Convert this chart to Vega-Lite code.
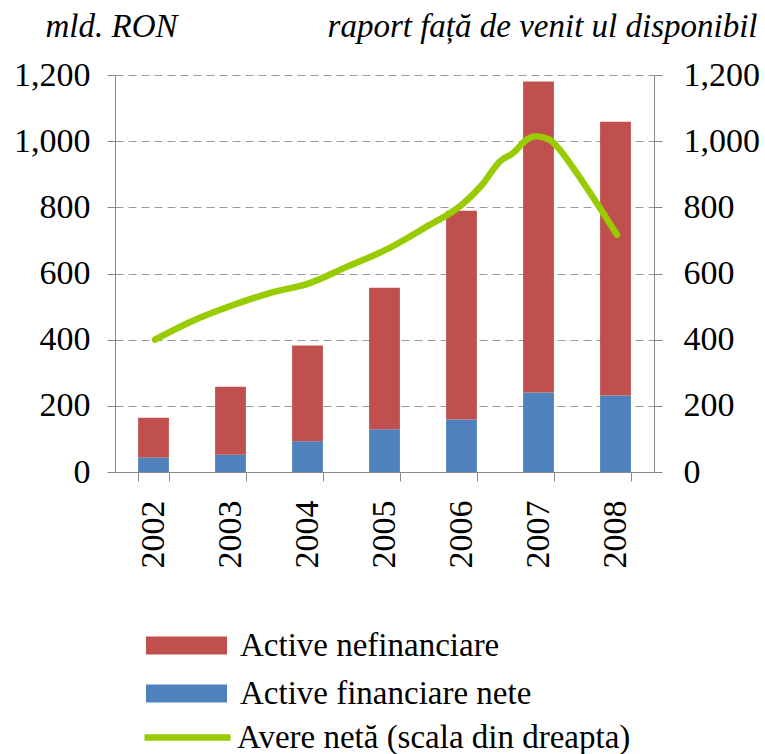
{
  "$schema": "https://vega.github.io/schema/vega-lite/v6.json",
  "width": 539,
  "height": 397,
  "autosize": {"type": "none"},
  "padding": {"left": 115, "top": 75, "right": 111, "bottom": 282},
  "background": "white",
  "config": {
    "font": "Liberation Serif",
    "view": {"stroke": null},
    "axis": {
      "labelFont": "Liberation Serif",
      "labelFontSize": 34,
      "labelColor": "black",
      "domainColor": "#888888",
      "tickColor": "#888888",
      "gridColor": "#999999",
      "gridDash": [8, 5],
      "titleFont": "Liberation Serif",
      "titleColor": "black"
    },
    "legend": {
      "labelFont": "Liberation Serif",
      "labelColor": "black",
      "labelFontSize": 33,
      "labelLimit": 600,
      "padding": 0
    }
  },
  "datasets": {
    "bars": [
      {"year": "2002", "series": "Active financiare nete", "ord": 1, "value": 44},
      {"year": "2002", "series": "Active nefinanciare", "ord": 2, "value": 120},
      {"year": "2003", "series": "Active financiare nete", "ord": 1, "value": 52},
      {"year": "2003", "series": "Active nefinanciare", "ord": 2, "value": 206},
      {"year": "2004", "series": "Active financiare nete", "ord": 1, "value": 93},
      {"year": "2004", "series": "Active nefinanciare", "ord": 2, "value": 289},
      {"year": "2005", "series": "Active financiare nete", "ord": 1, "value": 129},
      {"year": "2005", "series": "Active nefinanciare", "ord": 2, "value": 428},
      {"year": "2006", "series": "Active financiare nete", "ord": 1, "value": 159},
      {"year": "2006", "series": "Active nefinanciare", "ord": 2, "value": 631},
      {"year": "2007", "series": "Active financiare nete", "ord": 1, "value": 240},
      {"year": "2007", "series": "Active nefinanciare", "ord": 2, "value": 940},
      {"year": "2008", "series": "Active financiare nete", "ord": 1, "value": 231},
      {"year": "2008", "series": "Active nefinanciare", "ord": 2, "value": 828}
    ],
    "net": [
      {"t": 2002.02, "value": 400, "series": "Avere netă (scala din dreapta)"},
      {"t": 2002.49, "value": 455, "series": "Avere netă (scala din dreapta)"},
      {"t": 2002.99, "value": 501, "series": "Avere netă (scala din dreapta)"},
      {"t": 2003.51, "value": 541, "series": "Avere netă (scala din dreapta)"},
      {"t": 2004.03, "value": 571, "series": "Avere netă (scala din dreapta)"},
      {"t": 2004.51, "value": 620, "series": "Avere netă (scala din dreapta)"},
      {"t": 2005.02, "value": 672, "series": "Avere netă (scala din dreapta)"},
      {"t": 2005.52, "value": 738, "series": "Avere netă (scala din dreapta)"},
      {"t": 2006.02, "value": 811, "series": "Avere netă (scala din dreapta)"},
      {"t": 2006.26, "value": 866, "series": "Avere netă (scala din dreapta)"},
      {"t": 2006.5, "value": 939, "series": "Avere netă (scala din dreapta)"},
      {"t": 2006.67, "value": 964, "series": "Avere netă (scala din dreapta)"},
      {"t": 2006.86, "value": 1007, "series": "Avere netă (scala din dreapta)"},
      {"t": 2006.97, "value": 1015, "series": "Avere netă (scala din dreapta)"},
      {"t": 2007.14, "value": 1005, "series": "Avere netă (scala din dreapta)"},
      {"t": 2007.27, "value": 976, "series": "Avere netă (scala din dreapta)"},
      {"t": 2007.45, "value": 919, "series": "Avere netă (scala din dreapta)"},
      {"t": 2007.77, "value": 808, "series": "Avere netă (scala din dreapta)"},
      {"t": 2008.02, "value": 717, "series": "Avere netă (scala din dreapta)"}
    ]
  },
  "layer": [
    {
      "data": {"name": "bars"},
      "mark": {"type": "bar"},
      "encoding": {
        "x": {
          "field": "year",
          "type": "ordinal",
          "scale": {"paddingInner": 0.6, "paddingOuter": 0.3},
          "axis": {
            "title": null,
            "labelFont": "Liberation Serif",
            "labelFontSize": 34,
            "labelColor": "black",
            "labelAngle": -90,
            "labelAlign": "right",
            "labelBaseline": "middle",
            "tickBand": "extent",
            "tickSize": 9,
            "labelPadding": 19,
            "grid": false
          }
        },
        "y": {
          "field": "value",
          "type": "quantitative",
          "stack": "zero",
          "scale": {"domain": [0, 1200], "nice": false},
          "axis": {
            "values": [0, 200, 400, 600, 800, 1000, 1200],
            "format": ",d",
            "labelFont": "Liberation Serif",
            "labelFontSize": 34,
            "labelColor": "black",
            "tickSize": 8,
            "labelPadding": 17,
            "grid": true,
            "title": "mld. RON",
            "titleFont": "Liberation Serif",
            "titleAngle": 0,
            "titleX": -70,
            "titleY": -39,
            "titleAlign": "left",
            "titleBaseline": "alphabetic",
            "titleFontStyle": "italic",
            "titleFontWeight": "normal",
            "titleFontSize": 33
          }
        },
        "color": {
          "field": "series",
          "type": "nominal",
          "scale": {"domain": ["Active nefinanciare", "Active financiare nete"], "range": ["#C0504D", "#4F81BD"]},
          "legend": {
            "title": null,
            "orient": "none",
            "legendX": 51,
            "legendY": 550,
            "direction": "vertical",
            "symbolType": "M-2,-0.45H2V0.45H-2Z",
            "symbolSize": 1640,
            "symbolStrokeWidth": 0,
            "symbolOpacity": 1,
            "labelOffset": 33,
            "rowPadding": 10
          }
        },
        "order": {"field": "ord", "type": "quantitative"}
      }
    },
    {
      "data": {"name": "net"},
      "mark": {"type": "line", "strokeWidth": 6.5, "strokeCap": "round", "strokeJoin": "round", "interpolate": "monotone"},
      "encoding": {
        "x": {
          "field": "t",
          "type": "quantitative",
          "scale": {"domain": [2001.5, 2008.5], "nice": false, "zero": false},
          "axis": null
        },
        "y": {
          "field": "value",
          "type": "quantitative",
          "scale": {"domain": [0, 1200], "nice": false},
          "axis": {
            "orient": "right",
            "values": [0, 200, 400, 600, 800, 1000, 1200],
            "format": ",d",
            "labelFont": "Liberation Serif",
            "labelFontSize": 34,
            "labelColor": "black",
            "tickSize": 8,
            "labelPadding": 21,
            "grid": false,
            "title": "raport față de venit ul disponibil",
            "titleFont": "Liberation Serif",
            "titleAngle": 0,
            "titleX": 103,
            "titleY": -39,
            "titleAlign": "right",
            "titleBaseline": "alphabetic",
            "titleFontStyle": "italic",
            "titleFontWeight": "normal",
            "titleFontSize": 33
          }
        },
        "stroke": {
          "field": "series",
          "type": "nominal",
          "scale": {"range": ["#99CC00"]},
          "legend": {
            "title": null,
            "orient": "none",
            "legendX": 26,
            "legendY": 616,
            "direction": "vertical",
            "symbolType": "stroke",
            "symbolSize": 7396,
            "symbolStrokeWidth": 6.5,
            "labelOffset": 3
          }
        }
      }
    }
  ],
  "resolve": {"scale": {"x": "independent", "y": "independent"}}
}
